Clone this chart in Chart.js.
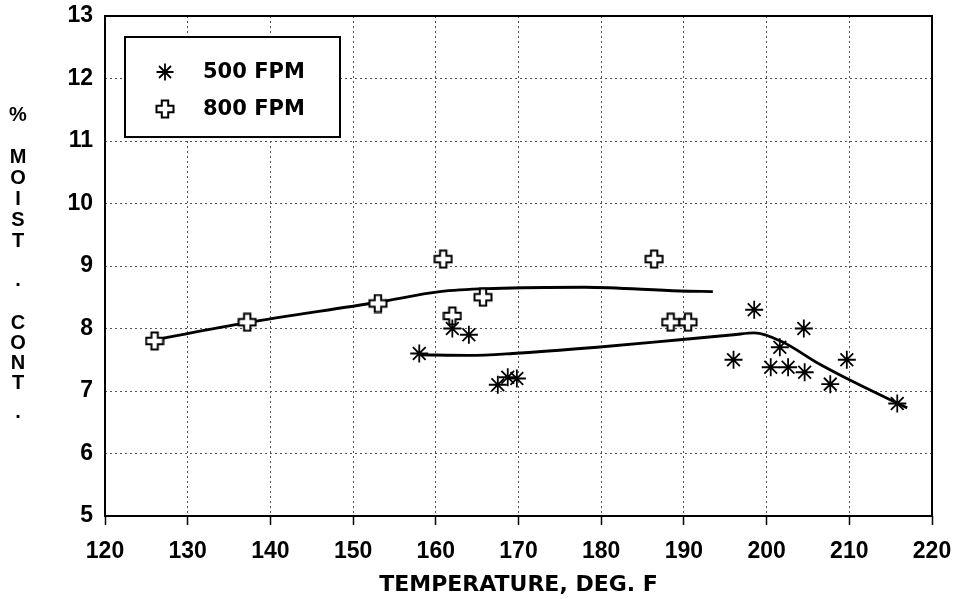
<!DOCTYPE html>
<html>
<head>
<meta charset="utf-8">
<script src="https://cdn.jsdelivr.net/npm/chart.js@4.4.1/dist/chart.umd.min.js"></script>
<style>
  html, body { margin: 0; padding: 0; background: #fff; }
  #wrap { width: 960px; height: 599px; position: relative; }
</style>
</head>
<body>
<div id="wrap"><canvas id="chart"></canvas></div>
<script>
// values
const fpm500X = [158, 162, 164, 167.5, 168.7, 169.8, 196, 198.5, 200.5, 201.6, 202.6, 204.5, 204.6, 207.7, 209.7, 215.8];
const fpm500Y = [7.6, 8.0, 7.9, 7.1, 7.22, 7.2, 7.5, 8.3, 7.38, 7.7, 7.38, 8.0, 7.3, 7.11, 7.5, 6.8];

const fpm800X = [126, 137.2, 153, 160.9, 162, 165.7, 186.4, 188.4, 190.5];
const fpm800Y = [7.8, 8.1, 8.4, 9.11, 8.2, 8.5, 9.11, 8.1, 8.1];

// hand-drawn fit curves
const fit800X = [126, 137, 153, 160.5, 167, 178, 189.5, 193.5];
const fit800Y = [7.82, 8.09, 8.42, 8.59, 8.64, 8.66, 8.6, 8.59];

const fit500X = [158, 164, 169.3, 179.5, 189.5, 196, 198.5, 202, 206, 209.7, 217];
const fit500Y = [7.58, 7.57, 7.6, 7.7, 7.82, 7.9, 7.93, 7.78, 7.46, 7.2, 6.73];

const xTicks = [120, 130, 140, 150, 160, 170, 180, 190, 200, 210, 220];
const yTicks = [5, 6, 7, 8, 9, 10, 11, 12, 13];

const seriesLabels = ['500 FPM', '800 FPM'];
const xTitle = 'TEMPERATURE, DEG. F';
const yTitle = '% MOIST. CONT.';

const pts = (xs, ys) => xs.map((x, i) => ({ x: x, y: ys[i] }));

// hollow greek cross marker
function crossMarker(size) {
  const c = document.createElement('canvas');
  c.width = size; c.height = size;
  const g = c.getContext('2d');
  const m = size / 2, a = size / 2 - 1.5, w = 3.2;
  g.beginPath();
  g.moveTo(m - w, m - a); g.lineTo(m + w, m - a); g.lineTo(m + w, m - w);
  g.lineTo(m + a, m - w); g.lineTo(m + a, m + w); g.lineTo(m + w, m + w);
  g.lineTo(m + w, m + a); g.lineTo(m - w, m + a); g.lineTo(m - w, m + w);
  g.lineTo(m - a, m + w); g.lineTo(m - a, m - w); g.lineTo(m - w, m - w);
  g.closePath();
  g.fillStyle = '#fff';
  g.fill();
  g.lineWidth = 2;
  g.strokeStyle = '#000';
  g.stroke();
  return c;
}
const plus = crossMarker(20);

const frame = {
  id: 'frame',
  afterDatasetsDraw(chart) {
    const { ctx, chartArea: a } = chart;
    ctx.save();
    ctx.strokeStyle = '#000';
    ctx.lineWidth = 2;
    ctx.strokeRect(a.left, a.top, a.right - a.left, a.bottom - a.top);

    // legend box
    const bx = a.left + 20, by = a.top + 21, bw = 215, bh = 100;
    ctx.fillStyle = '#fff';
    ctx.fillRect(bx, by, bw, bh);
    ctx.strokeRect(bx, by, bw, bh);
    ctx.fillStyle = '#000';
    ctx.font = 'bold 21px "DejaVu Sans"';
    ctx.textBaseline = 'middle';
    ctx.textAlign = 'left';
    const rows = [by + 35, by + 72];
    // asterisk
    const sx = bx + 40, sy = rows[0];
    ctx.lineWidth = 1.8;
    ctx.beginPath();
    for (let k = 0; k < 4; k++) {
      const t = k * Math.PI / 4;
      ctx.moveTo(sx - 8.5 * Math.sin(t), sy - 8.5 * Math.cos(t));
      ctx.lineTo(sx + 8.5 * Math.sin(t), sy + 8.5 * Math.cos(t));
    }
    ctx.stroke();
    ctx.drawImage(plus, bx + 30, rows[1] - 10);
    ctx.fillText(seriesLabels[0], bx + 78, rows[0] + 1);
    ctx.fillText(seriesLabels[1], bx + 78, rows[1] + 1);

    // stacked y title
    ctx.font = 'bold 20px "Liberation Sans"';
    ctx.textAlign = 'center';
    const letters = yTitle.replace(/ /g, '').split('');
    const ys = [115, 157, 178, 199, 220, 241, 280, 323, 343, 363, 383, 412];
    letters.forEach((ch, i) => ctx.fillText(ch, 18, ys[i]));
    ctx.restore();
  }
};

new Chart(document.getElementById('chart'), {
  type: 'scatter',
  data: {
    datasets: [
      {
        label: seriesLabels[0],
        data: pts(fpm500X, fpm500Y),
        pointStyle: 'star',
        pointRadius: 9,
        borderColor: '#000',
        borderWidth: 1.8,
        backgroundColor: '#000'
      },
      {
        label: seriesLabels[1],
        data: pts(fpm800X, fpm800Y),
        pointStyle: plus,
        pointRadius: 10
      },
      {
        type: 'line',
        label: 'fit 800',
        data: pts(fit800X, fit800Y),
        borderColor: '#000',
        borderWidth: 2.8,
        pointRadius: 0,
        cubicInterpolationMode: 'monotone',
        fill: false
      },
      {
        type: 'line',
        label: 'fit 500',
        data: pts(fit500X, fit500Y),
        borderColor: '#000',
        borderWidth: 2.8,
        pointRadius: 0,
        cubicInterpolationMode: 'monotone',
        fill: false
      }
    ]
  },
  options: {
    responsive: true,
    maintainAspectRatio: false,
    animation: false,
    events: [],
    layout: { padding: { left: 0, right: 28, top: 16, bottom: 0 } },
    plugins: { legend: { display: false }, tooltip: { enabled: false } },
    scales: {
      x: {
        type: 'linear',
        min: 120, max: 220,
        afterBuildTicks: s => { s.ticks = xTicks.map(v => ({ value: v })); },
        afterFit: s => { s.height = 83; s.paddingLeft = 0; s.paddingRight = 0; },
        grid: { color: '#555', lineWidth: 1, tickLength: 9, tickColor: '#000', tickWidth: 1.5 },
        border: { display: false, dash: [2, 3] },
        ticks: { color: '#000', padding: 13, font: { family: '"Liberation Sans"', weight: 'bold', size: 23 } },
        title: { display: true, text: xTitle, color: '#000', padding: { top: 0, bottom: 1 }, font: { family: '"DejaVu Sans"', weight: 'bold', size: 22 } }
      },
      y: {
        min: 5, max: 13,
        afterBuildTicks: s => { s.ticks = yTicks.map(v => ({ value: v })); },
        afterFit: s => { s.width = 105; s.paddingTop = 0; s.paddingBottom = 0; },
        grid: { color: '#555', lineWidth: 1, drawTicks: false },
        border: { display: false, dash: [2, 3] },
        ticks: { color: '#000', padding: 12, font: { family: '"Liberation Sans"', weight: 'bold', size: 23 } }
      }
    }
  },
  plugins: [frame]
});
</script>
</body>
</html>
